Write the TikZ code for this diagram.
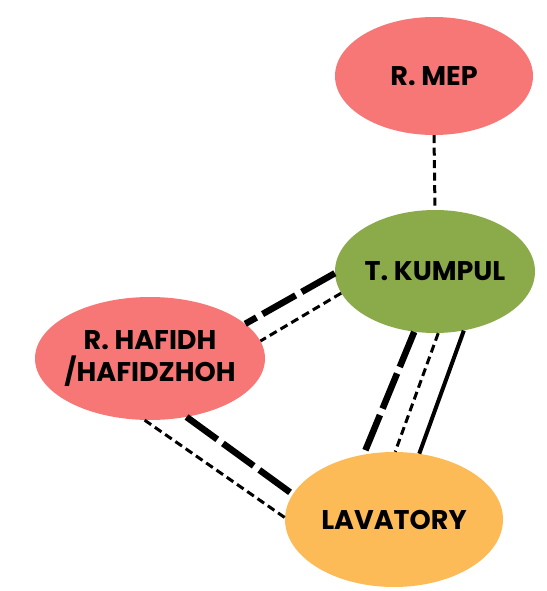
\documentclass[tikz,border=0pt]{standalone}
\usepackage{fontspec}
\newfontfamily\mrotulofonte{Poppins}
\usetikzlibrary{shapes.geometric}
\definecolor{mrosa}{HTML}{F77676}
\definecolor{mverde}{HTML}{8BAA4A}
\definecolor{mlaranja}{HTML}{FDBB57}
\tikzset{
  msala/.style={ellipse, draw=none, inner sep=0pt},
  mrotulo/.style={align=center, inner sep=0pt, text=black,
                  font=\mrotulofonte\bfseries\fontsize{27}{32}\selectfont},
  mfino/.style={line width=3pt, dash pattern=on 8pt off 4.5pt},
  mgrosso/.style={line width=6.5pt, dash pattern=on 38pt off 7pt},
  mcheio/.style={line width=4pt},
}

\begin{document}
\begin{tikzpicture}[x=1pt, y=-1pt]
        \useasboundingbox (0,0) rectangle (546,591);
        % ---------------- salas ----------------
        \node[msala, fill=mrosa, minimum width=198pt, minimum height=118pt,
              label={[mrotulo]center:R. MEP}] (mep) at (434,76) {};
        \node[msala, fill=mverde, minimum width=200pt, minimum height=123pt,
              label={[mrotulo]center:T. KUMPUL}] (kumpul) at (435,271.5) {};
        \node[msala, fill=mrosa, minimum width=230pt, minimum height=123pt,
              label={[mrotulo]center:R. HAFIDH\\/HAFIDZHOH}] (hafidh) at (150,358.5) {};
        \node[msala, fill=mlaranja, minimum width=218pt, minimum height=135pt,
              label={[mrotulo]center:LAVATORY}] (lavatory) at (394,519.5) {};
        % ---------------- ligacoes ----------------
        \draw[mfino] (mep.south) -- (kumpul.north);
        \draw[mgrosso] (kumpul.181) -- (hafidh.20);
        \draw[mfino] (kumpul.193.5) -- (hafidh.9.4);
        \draw[mgrosso] (hafidh.-58) -- (lavatory.166.5);
        \draw[mfino] (hafidh.265.6) -- (lavatory.179);
        \draw[mgrosso] (kumpul.251) -- (lavatory.115.7);
        \draw[mfino] (kumpul.273.6) -- (lavatory.89);
        \draw[mcheio] (kumpul.296) -- (lavatory.69);
    \end{tikzpicture}
\end{document}
